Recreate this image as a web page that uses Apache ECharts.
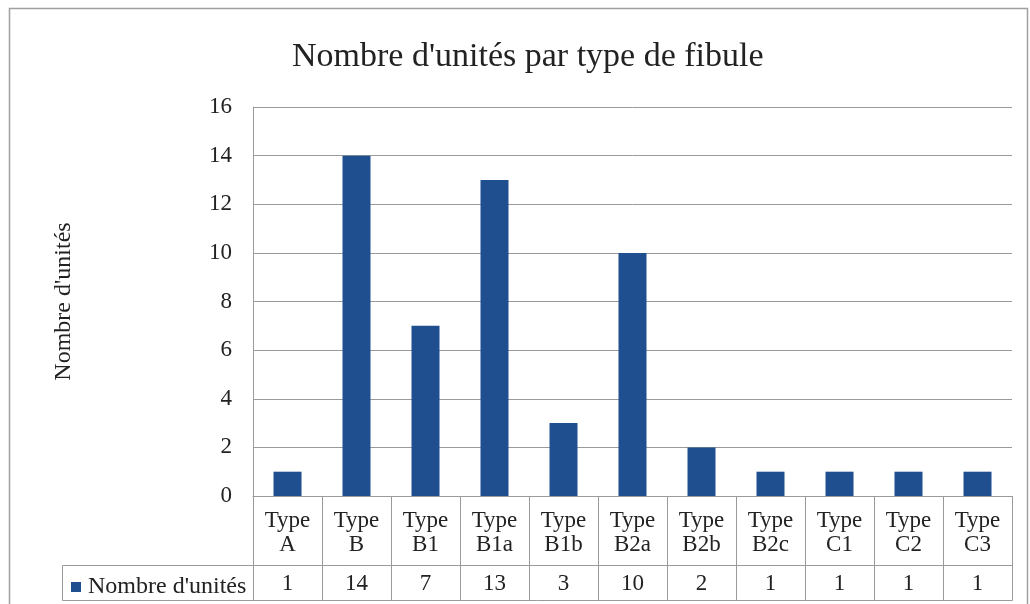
<!DOCTYPE html>
<html>
<head>
<meta charset="utf-8">
<script src="https://cdn.jsdelivr.net/npm/echarts@6/dist/echarts.min.js"></script>
<style>
html,body{margin:0;padding:0;background:#fff;}
#chart{width:1030px;height:604px;}
</style>
</head>
<body>
<div id="chart"></div>
<script>
const categories = ["Type A","Type B","Type B1","Type B1a","Type B1b","Type B2a","Type B2b","Type B2c","Type C1","Type C2","Type C3"];
const values = [1,14,7,13,3,10,2,1,1,1,1];
const seriesName = "Nombre d'unités";
const titleText = "Nombre d'unités par type de fibule";
const yTicks = [0,2,4,6,8,10,12,14,16];

const FONT = '"Liberation Serif","DejaVu Serif",serif';
const TXT = '#222';
const LINE = '#9a9a9a';

const chart = echarts.init(document.getElementById('chart'));
chart.setOption({
  animation: false,
  backgroundColor: '#fff',
  textStyle: { fontFamily: FONT, color: TXT },
  title: {
    text: titleText,
    left: 287,
    top: 35,
    textStyle: { fontFamily: FONT, fontSize: 34, fontWeight: 'normal', color: TXT }
  },
  legend: {
    data: [seriesName],
    left: 66,
    top: 570,
    icon: 'rect',
    itemWidth: 10,
    itemHeight: 10,
    itemGap: 6,
    textStyle: { fontFamily: FONT, fontSize: 24, color: TXT, padding: [0,0,0,2] },
    selectedMode: false
  },
  grid: { left: 253, right: 18, top: 107, bottom: 108, containLabel: false },
  xAxis: [
    {
      type: 'category',
      data: categories,
      position: 'bottom',
      axisLine: { show: true, lineStyle: { color: LINE } },
      axisTick: { show: true, alignWithLabel: false, length: 104, lineStyle: { color: LINE } },
      axisLabel: {
        interval: 0,
        margin: 13,
        fontFamily: FONT, fontSize: 23, color: TXT, lineHeight: 24,
        formatter: v => v.replace(' ', '\n')
      }
    },
    {
      type: 'category',
      data: values.map(String),
      position: 'bottom',
      offset: 69,
      axisLine: { show: true, lineStyle: { color: LINE } },
      axisTick: { show: false },
      axisLabel: { interval: 0, margin: 7, fontFamily: FONT, fontSize: 23, color: TXT }
    }
  ],
  yAxis: {
    type: 'value',
    min: yTicks[0],
    max: yTicks[yTicks.length - 1],
    interval: 2,
    name: seriesName,
    nameLocation: 'middle',
    nameGap: 177,
    nameRotate: 90,
    nameTextStyle: { fontFamily: FONT, fontSize: 24, color: TXT },
    axisLine: { show: true, lineStyle: { color: LINE } },
    axisTick: { show: false },
    axisLabel: { margin: 21, fontFamily: FONT, fontSize: 23, color: TXT },
    splitLine: { show: true, lineStyle: { color: LINE, width: 1 } }
  },
  series: [{
    name: seriesName,
    type: 'bar',
    data: values,
    barWidth: 28,
    itemStyle: { color: '#1f4f8f' }
  }],
  graphic: [
    { type: 'rect', shape: { x: 9.5, y: 8.5, width: 1018, height: 610 },
      style: { fill: 'none', stroke: '#a0a0a0', lineWidth: 1.5 }, silent: true },
    { type: 'rect', shape: { x: 62.5, y: 565.5, width: 950, height: 35 },
      style: { fill: 'none', stroke: LINE, lineWidth: 1 }, silent: true }
  ]
});
</script>
</body>
</html>
